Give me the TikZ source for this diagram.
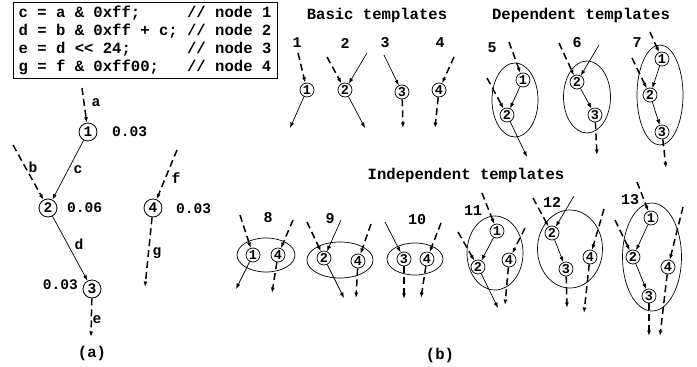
\documentclass[tikz,border=0pt]{standalone}
\usepackage{fontspec}
\setmonofont{Liberation Mono}
\usetikzlibrary{arrows.meta,shapes.geometric}

\newcommand\codefont{\ttfamily\bfseries\fontsize{15.6}{18}\selectfont\frenchspacing}
\newcommand\lblfont{\ttfamily\bfseries\fontsize{14.6}{16}\selectfont}
\newcommand\numfont{\ttfamily\bfseries\fontsize{15}{16}\selectfont}
\newcommand\digfont{\ttfamily\bfseries\fontsize{13.5}{14}\selectfont}

\tikzset{
  op/.style={circle, draw, line width=0.8pt, inner sep=0pt, minimum size=18pt, font=\lblfont},
  tn/.style={circle, draw, line width=0.7pt, inner sep=0pt, minimum size=14pt, font=\digfont},
  grp/.style={ellipse, draw, line width=0.7pt, inner sep=0pt},
  tipped/.style={-{Latex[length=5.5pt,width=4pt]}},
  sarr/.style={tipped, line width=0.7pt},
  darr/.style={tipped, line width=1.5pt, dash pattern=on 7pt off 4pt},
  txt/.style={font=\lblfont, inner sep=0pt},
  ttl/.style={font=\codefont, inner sep=0pt},
  num/.style={font=\numfont, inner sep=0pt},
}

\begin{document}
\begin{tikzpicture}[x=1pt, y=-1pt]
\useasboundingbox (0,0) rectangle (697,367);

% ---------- source code ----------
\node[draw, line width=1pt, minimum width=264pt, minimum height=76pt,
      inner sep=0pt, align=left, font=\codefont] (code) at (145,40)
  {c = a \& 0xff;\ \ \ \ \ // node 1\\
   d = b \& 0xff + c;\ // node 2\\
   e = d << 24;\ \ \ \ \ \ // node 3\\
   g = f \& 0xff00;\ \ \ // node 4};

% ---------- (a) dataflow graph ----------
\node[op] (a1) at (88,132) {1};
\node[op] (a2) at (48,208) {2};
\node[op] (a3) at (92,289) {3};
\node[op] (a4) at (153,208) {4};

\node[txt, anchor=west] (w1) at (112,132) {0.03};
\node[txt, anchor=west] (w2) at (67,208) {0.06};
\node[txt, anchor=west] (w4) at (176,209) {0.03};
\node[txt, anchor=east] (w3) at (78,285) {0.03};

\coordinate (ia) at (82,88);
\coordinate (ib) at (13,145);
\coordinate (oe) at (91,337);
\coordinate (if) at (177,150);
\coordinate (og) at (145,287);

\draw[darr] (ia) -- (a1);
\draw[darr] (ib) -- (a2);
\draw[sarr] (a1) -- (a2);
\draw[sarr] (a2) -- (a3);
\draw[darr] (a3) -- (oe);
\draw[darr] (if) -- (a4);
\draw[darr] (a4) -- (og);

\node[txt] (la) at (96,103) {a};
\node[txt] (lb) at (33,167) {b};
\node[txt] (lc) at (78,170) {c};
\node[txt] (ld) at (79,244) {d};
\node[txt] (le) at (97,320) {e};
\node[txt] (lf) at (176,178) {f};
\node[txt] (lg) at (157,253) {g};

\node[ttl] (capa) at (92,353) {(a)};
\node[ttl] (capb) at (440,355) {(b)};

% ---------- titles ----------
\node[ttl] (tbasic) at (377,15) {Basic templates};
\node[ttl] (tdep) at (581,15) {Dependent templates};
\node[ttl] (tind) at (466,175) {Independent templates};

% ---------- basic templates 1-4 ----------
\node[num] (k1) at (297,43) {1};
\node[tn] (b1) at (307,90) {1};
\coordinate (b1i) at (298,53);
\coordinate (b1o) at (290,128);
\draw[darr] (b1i) -- (b1);
\draw[sarr] (b1) -- (b1o);

\node[num] (k2) at (345,43) {2};
\node[tn] (b2) at (345,90) {2};
\coordinate (b2i) at (327,57);
\coordinate (b2j) at (367,53);
\coordinate (b2o) at (365,128);
\draw[darr] (b2i) -- (b2);
\draw[sarr] (b2j) -- (b2);
\draw[sarr] (b2) -- (b2o);

\node[num] (k3) at (385,43) {3};
\node[tn] (b3) at (402,92) {3};
\coordinate (b3i) at (384,55);
\coordinate (b3o) at (403,128);
\draw[sarr] (b3i) -- (b3);
\draw[darr] (b3) -- (b3o);

\node[num] (k4) at (440,43) {4};
\node[tn] (b4) at (439,90) {4};
\coordinate (b4i) at (454,57);
\coordinate (b4o) at (435,128);
\draw[darr] (b4i) -- (b4);
\draw[darr] (b4) -- (b4o);

% ---------- dependent templates 5-7 ----------
\node[num] (k5) at (492,48) {5};
\node[grp, minimum width=46pt, minimum height=74pt] (g5) at (515,100) {};
\node[tn] (p51) at (523,80) {1};
\node[tn] (p52) at (507,115) {2};
\coordinate (p51i) at (509,42);
\coordinate (p52i) at (487,78);
\coordinate (p52o) at (527,157);
\draw[darr] (p51i) -- (p51);
\draw[darr] (p52i) -- (p52);
\draw[sarr] (p51) -- (p52);
\draw[sarr] (p52) -- (p52o);

\node[num] (k6) at (577,43) {6};
\node[grp, minimum width=47pt, minimum height=72pt] (g6) at (587,97) {};
\node[tn] (p62) at (577,82) {2};
\node[tn] (p63) at (595,115) {3};
\coordinate (p62i) at (559,43);
\coordinate (p62j) at (599,45);
\coordinate (p63o) at (597,155);
\draw[darr] (p62i) -- (p62);
\draw[sarr] (p62j) -- (p62);
\draw[sarr] (p62) -- (p63);
\draw[darr] (p63) -- (p63o);

\node[num] (k7) at (637,43) {7};
\node[grp, minimum width=46pt, minimum height=100pt] (g7) at (660,95) {};
\node[tn] (p71) at (662,59) {1};
\node[tn] (p72) at (650,95) {2};
\node[tn] (p73) at (662,132) {3};
\coordinate (p71i) at (650,32);
\coordinate (p72i) at (632,58);
\coordinate (p73o) at (666,168);
\draw[darr] (p71i) -- (p71);
\draw[darr] (p72i) -- (p72);
\draw[sarr] (p71) -- (p72);
\draw[sarr] (p72) -- (p73);
\draw[darr] (p73) -- (p73o);

% ---------- independent templates 8-13 ----------
\node[num] (k8) at (268,218) {8};
\node[grp, minimum width=58pt, minimum height=34pt] (g8) at (266,255) {};
\node[tn] (q81) at (253,255) {1};
\node[tn] (q84) at (278,255) {4};
\coordinate (q81i) at (240,215);
\coordinate (q84i) at (293,220);
\coordinate (q81o) at (236,289);
\coordinate (q84o) at (272,293);
\draw[darr] (q81i) -- (q81);
\draw[darr] (q84i) -- (q84);
\draw[sarr] (q81) -- (q81o);
\draw[darr] (q84) -- (q84o);

\node[num] (k9) at (330,219) {9};
\node[grp, minimum width=66pt, minimum height=36pt] (g9) at (340,260) {};
\node[tn] (q92) at (324,258) {2};
\node[tn] (q94) at (358,261) {4};
\coordinate (q92i) at (307,222);
\coordinate (q92j) at (341,220);
\coordinate (q94i) at (371,224);
\coordinate (q92o) at (344,298);
\coordinate (q94o) at (356,298);
\draw[darr] (q92i) -- (q92);
\draw[sarr] (q92j) -- (q92);
\draw[darr] (q94i) -- (q94);
\draw[sarr] (q92) -- (q92o);
\draw[darr] (q94) -- (q94o);

\node[num] (k10) at (417,220) {10};
\node[grp, minimum width=56pt, minimum height=32pt] (g10) at (415,259) {};
\node[tn] (q103) at (404,259) {3};
\node[tn] (q104) at (427,259) {4};
\coordinate (q103i) at (385,222);
\coordinate (q104i) at (441,223);
\coordinate (q103o) at (404,299);
\coordinate (q104o) at (421,298);
\draw[sarr] (q103i) -- (q103);
\draw[darr] (q104i) -- (q104);
\draw[darr] (q103) -- (q103o);
\draw[darr] (q104) -- (q104o);

\node[num] (k11) at (473,211) {11};
\node[grp, minimum width=56pt, minimum height=74pt] (g11) at (495,253) {};
\node[tn] (q111) at (497,231) {1};
\node[tn] (q112) at (478,267) {2};
\node[tn] (q114) at (509,260) {4};
\coordinate (q111i) at (482,193);
\coordinate (q112i) at (458,232);
\coordinate (q114i) at (525,228);
\coordinate (q112o) at (498,308);
\coordinate (q114o) at (505,305);
\draw[darr] (q111i) -- (q111);
\draw[darr] (q112i) -- (q112);
\draw[darr] (q114i) -- (q114);
\draw[sarr] (q111) -- (q112);
\draw[sarr] (q112) -- (q112o);
\draw[darr] (q114) -- (q114o);

\node[num] (k12) at (552,202) {12};
\node[grp, minimum width=65pt, minimum height=78pt] (g12) at (570,249) {};
\node[tn] (q122) at (552,233) {2};
\node[tn] (q123) at (566,269) {3};
\node[tn] (q124) at (590,257) {4};
\coordinate (q122i) at (533,198);
\coordinate (q122j) at (574,196);
\coordinate (q124i) at (604,209);
\coordinate (q123o) at (567,308);
\coordinate (q124o) at (584,313);
\draw[darr] (q122i) -- (q122);
\draw[sarr] (q122j) -- (q122);
\draw[darr] (q124i) -- (q124);
\draw[sarr] (q122) -- (q123);
\draw[darr] (q123) -- (q123o);
\draw[darr] (q124) -- (q124o);

\node[num] (k13) at (630,200) {13};
\node[grp, minimum width=59pt, minimum height=108pt] (g13) at (652,257) {};
\node[tn] (q131) at (651,218) {1};
\node[tn] (q132) at (633,257) {2};
\node[tn] (q133) at (649,296) {3};
\node[tn] (q134) at (668,267) {4};
\coordinate (q131i) at (637,182);
\coordinate (q132i) at (615,220);
\coordinate (q134i) at (683,207);
\coordinate (q133o) at (649,336);
\coordinate (q134o) at (660,336);
\draw[darr] (q131i) -- (q131);
\draw[darr] (q132i) -- (q132);
\draw[darr] (q134i) -- (q134);
\draw[sarr] (q131) -- (q132);
\draw[sarr] (q132) -- (q133);
\draw[darr] (q133) -- (q133o);
\draw[darr] (q134) -- (q134o);
\end{tikzpicture}
\end{document}
